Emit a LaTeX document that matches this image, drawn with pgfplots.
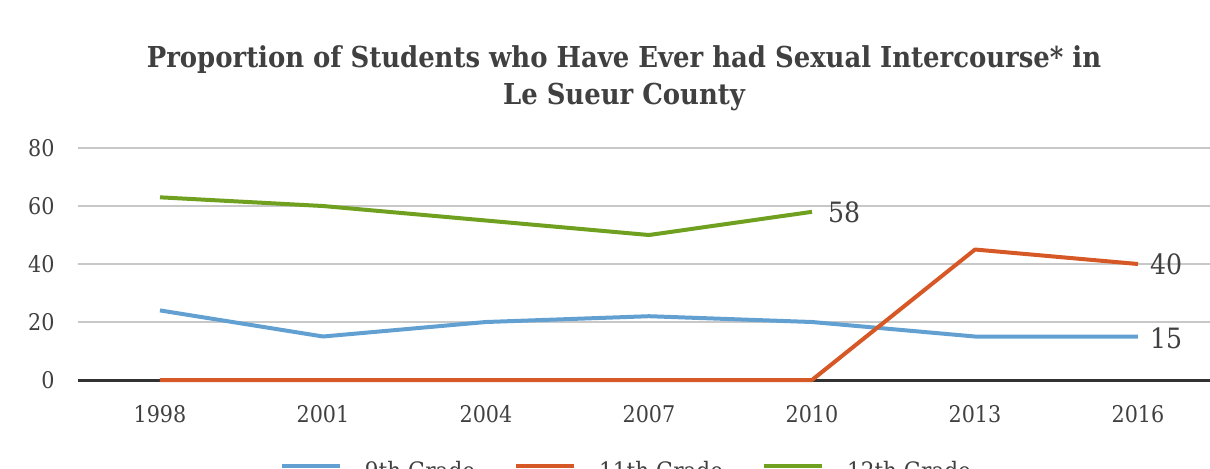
\documentclass[border=0pt]{standalone}
\usepackage{pgfplots}
\pgfplotsset{compat=1.18}
\usepackage{fontspec}
\setmainfont{DejaVu Serif Condensed}

\definecolor{gr9}{RGB}{98,160,210}
\definecolor{gr11}{RGB}{214,88,38}
\definecolor{gr12}{RGB}{112,160,32}
\definecolor{zeroline}{RGB}{50,50,50}
\definecolor{gridgray}{RGB}{200,200,200}
\definecolor{txt}{RGB}{64,64,64}

\begin{document}
\begin{tikzpicture}
\useasboundingbox (0,0) rectangle (605pt,234pt);
\clip (0,0) rectangle (605pt,234pt);

% title, two lines, centred on the whole chart
\node[align=center, text=txt, font=\fontsize{14.4}{18.5}\selectfont\bfseries]
  at (312pt,194.75pt) {Proportion of Students who Have Ever had Sexual Intercourse* in\\Le Sueur County};

\begin{axis}[
    at={(39.25pt,44pt)}, anchor=south west,
    scale only axis,
    width=570.5pt, height=116pt,
    xmin=-0.5, xmax=6.5,
    ymin=0, ymax=80,
    clip=false,
    axis line style={draw=none},
    major tick length=0pt,
    xtick={0,...,6},
    xticklabels={1998,2001,2004,2007,2010,2013,2016},
    ytick={0,20,...,80},
    ymajorgrids,
    grid style={gridgray, line width=0.8pt},
    /pgf/number format/assume math mode=true,
    tick label style={font=\fontsize{11.5}{13}\selectfont, text=txt},
    xticklabel style={yshift=-9pt},
    yticklabel style={xshift=-8.5pt},
    legend columns=3,
    legend cell align=left,
    legend style={at={(0.4794,-0.349)}, anchor=north, draw=none, fill=none,
        inner sep=0pt, nodes={inner sep=0pt}, font=\fontsize{12}{14}\selectfont, text=txt,
        /tikz/every odd column/.append style={column sep=11.5pt},
        /tikz/every even column/.append style={column sep=19.5pt}},
    legend image code/.code={\draw[#1, line width=2pt] (0pt,0.6ex) -- (29pt,0.6ex);},
]
% the zero line
\addplot[forget plot, zeroline, line width=1.5pt] coordinates {(-0.5,0) (6.5,0)};

% 9th grade
\addplot[gr9, line width=2pt, line join=round] coordinates {
  (0,24) (1,15) (2,20) (3,22) (4,20) (5,15) (6,15)};
\addlegendentry{9th Grade}
% 11th grade
\addplot[gr11, line width=2pt, line join=round] coordinates {
  (0,0) (1,0) (2,0) (3,0) (4,0) (5,45) (6,40)};
\addlegendentry{11th Grade}
% 12th grade
\addplot[gr12, line width=2pt, line join=round] coordinates {
  (0,63) (1,60) (2,55) (3,50) (4,58)};
\addlegendentry{12th Grade}

% value labels at the last points
\node[anchor=west, xshift=4.5pt, text=txt, font=\fontsize{14}{16}\selectfont] at (axis cs:4,58) {58};
\node[anchor=west, xshift=2.5pt, text=txt, font=\fontsize{14}{16}\selectfont] at (axis cs:6,40) {40};
\node[anchor=west, xshift=2.5pt, yshift=-1pt, text=txt, font=\fontsize{14}{16}\selectfont] at (axis cs:6,15) {15};
\end{axis}
\end{tikzpicture}
\end{document}
